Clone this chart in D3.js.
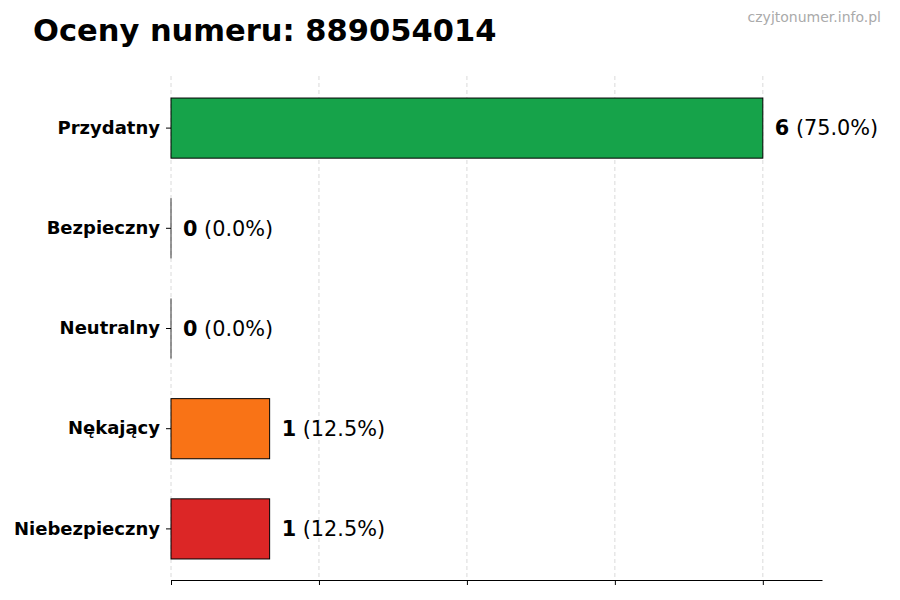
<!DOCTYPE html>
<html>
<head>
<meta charset="utf-8">
<script src="https://cdn.jsdelivr.net/npm/d3@7"></script>
<style>
  body { margin: 0; background: #fff; }
  svg { font-family: "DejaVu Sans", sans-serif; }
</style>
</head>
<body>
<div id="chart"></div>
<script>
// dane z wykresu
const categories = ['Przydatny', 'Bezpieczny', 'Neutralny', 'Nękający', 'Niebezpieczny'];
const counts = [6, 0, 0, 1, 1];
const colors = ['#16a34a', '#9ca3af', '#6b7280', '#f97316', '#dc2626'];
const xTicks = [0, 1.5, 3, 4.5, 6];

const width = 900, height = 600;
const margin = { top: 78, right: 78, bottom: 20, left: 171 };
const total = d3.sum(counts);

const svg = d3.select('#chart')
    .append('svg')
    .attr('width', width)
    .attr('height', height);

const x = d3.scaleLinear()
    .domain([0, d3.max(counts) * 1.1])
    .range([margin.left, width - margin.right]);

const y = d3.scaleBand()
    .domain(categories)
    .range([margin.top, height - margin.bottom - 1])
    .paddingInner(0.4)
    .paddingOuter(0.2);

const axisY = height - margin.bottom;

// siatka
svg.append('g')
    .selectAll('line')
    .data(xTicks)
    .join('line')
    .attr('x1', d => x(d))
    .attr('x2', d => x(d))
    .attr('y1', margin.top - 2)
    .attr('y2', axisY)
    .attr('stroke', '#d0d0d0')
    .attr('stroke-width', 0.8)
    .attr('stroke-dasharray', '4,3');

// słupki
svg.append('g')
    .selectAll('rect')
    .data(categories)
    .join('rect')
    .attr('x', x(0))
    .attr('y', d => y(d))
    .attr('width', (d, i) => x(counts[i]) - x(0))
    .attr('height', y.bandwidth())
    .attr('fill', (d, i) => colors[i])
    .attr('stroke', '#000')
    .attr('stroke-width', 1);

// krawędź słupków o zerowej wartości
svg.append('g')
    .selectAll('line')
    .data(categories.filter((d, i) => counts[i] === 0))
    .join('line')
    .attr('x1', x(0))
    .attr('x2', x(0))
    .attr('y1', d => y(d))
    .attr('y2', d => y(d) + y.bandwidth())
    .attr('stroke', '#333')
    .attr('stroke-width', 1);

// oś X (bez etykiet)
svg.append('g')
    .attr('transform', `translate(0,${axisY})`)
    .call(d3.axisBottom(x).tickValues(xTicks).tickFormat('').tickSize(5).tickSizeOuter(0))
    .call(g => g.select('.domain').attr('stroke', '#000').attr('stroke-width', 1.2));

// oś Y
const yAxis = svg.append('g')
    .attr('transform', `translate(${margin.left},0)`)
    .call(d3.axisLeft(y).tickSize(5).tickPadding(6));
yAxis.select('.domain').remove();
yAxis.selectAll('text')
    .attr('font-size', 18)
    .attr('font-weight', 'bold')
    .attr('fill', '#000')
    .attr('font-family', '"DejaVu Sans", sans-serif');

// etykiety wartości
const labels = svg.append('g')
    .selectAll('text')
    .data(categories)
    .join('text')
    .attr('x', (d, i) => x(counts[i]) + 12)
    .attr('y', d => y(d) + y.bandwidth() / 2)
    .attr('dy', '0.35em')
    .attr('font-size', 20.8);
labels.append('tspan')
    .attr('font-weight', 'bold')
    .text((d, i) => counts[i]);
labels.append('tspan')
    .text((d, i) => ` (${(counts[i] / total * 100).toFixed(1)}%)`);

// tytuł
svg.append('text')
    .attr('x', 33)
    .attr('y', 41)
    .attr('font-size', 30.5)
    .attr('font-weight', 'bold')
    .text('Oceny numeru: 889054014');

svg.append('text')
    .attr('x', 881)
    .attr('y', 22)
    .attr('text-anchor', 'end')
    .attr('font-size', 14)
    .attr('fill', '#aaaaaa')
    .text('czyjtonumer.info.pl');
</script>
</body>
</html>
